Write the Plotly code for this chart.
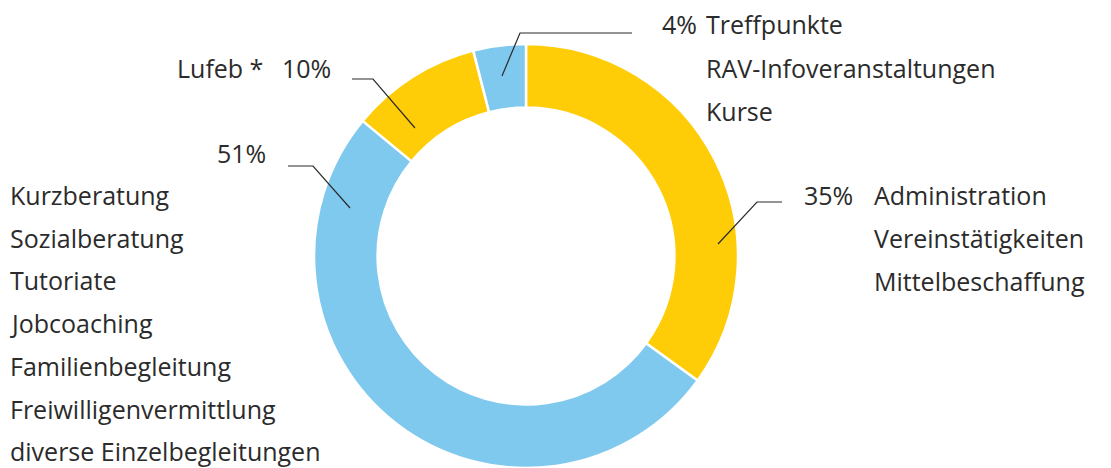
import plotly.graph_objects as go

W, H = 1111, 468
OFF = 8  # page offset of the figure (browser body margin)

# Data
categories = ["Administration", "Beratung & Begleitung", "Lufeb *", "Treffpunkte"]
values = [35, 51, 10, 4]
colors = ["#FECD08", "#80C9EE", "#FECD08", "#80C9EE"]
pct_labels = ["35%", "51%", "10%", "4%"]
detail_35 = ["Administration", "Vereinstätigkeiten", "Mittelbeschaffung"]
detail_51 = ["Kurzberatung", "Sozialberatung", "Tutoriate", "Jobcoaching",
             "Familienbegleitung", "Freiwilligenvermittlung", "diverse Einzelbegleitungen"]
detail_4 = ["Treffpunkte", "RAV-Infoveranstaltungen", "Kurse"]
lufeb_label = "Lufeb *"


def px(x):
    return (x - OFF) / W


def py(y):
    return 1 - (y - OFF) / H


fig = go.Figure(go.Pie(
    labels=categories,
    values=values,
    hole=0.70,
    sort=False,
    direction="clockwise",
    rotation=0,
    marker=dict(colors=colors, line=dict(color="white", width=2.5)),
    textinfo="none",
    hoverinfo="label+percent",
    showlegend=False,
    domain=dict(x=[px(314), px(738)], y=[py(468), py(44)]),
))

font = dict(family="Open Sans, Noto Sans, sans-serif", size=25, color="#2b2b2b")
ann = []


def add(text, x, y, anchor="left"):
    ann.append(dict(text=text, x=px(x), y=py(y), xref="paper", yref="paper",
                    xanchor=anchor, yanchor="middle", showarrow=False,
                    borderpad=0, font=font))


# 4%
top_rows = [24, 68, 111]
add(pct_labels[3], 698, top_rows[0], "right")
for t, y in zip(detail_4, top_rows):
    add(t, 705, y)
# 10%
add(lufeb_label, 264, 68, "right")
add(pct_labels[2], 281, 68)
# 51%
add(pct_labels[1], 267, 153, "right")
for i, t in enumerate(detail_51):
    add(t, 9, 195 + i * 42.7)
# 35%
add(pct_labels[0], 854, 195, "right")
for i, t in enumerate(detail_35):
    add(t, 873, 195 + i * 43)

fig.update_layout(annotations=ann)

# leader lines
leaders = [
    [(502, 76), (520, 33), (632, 33)],
    [(415, 128), (373, 79), (352, 79)],
    [(350, 208), (313, 166), (288, 166)],
    [(718, 244), (757, 202), (782, 202)],
]
shapes = []
for pts in leaders:
    path = "M " + " L ".join(f"{px(x)},{py(y)}" for x, y in pts)
    shapes.append(dict(type="path", path=path, xref="paper", yref="paper",
                       line=dict(color="#2b2b2b", width=1.2)))
fig.update_layout(shapes=shapes)

fig.update_layout(
    width=W, height=H,
    margin=dict(l=0, r=0, t=0, b=0),
    paper_bgcolor="white", plot_bgcolor="white",
)

fig.write_html("out.html")
